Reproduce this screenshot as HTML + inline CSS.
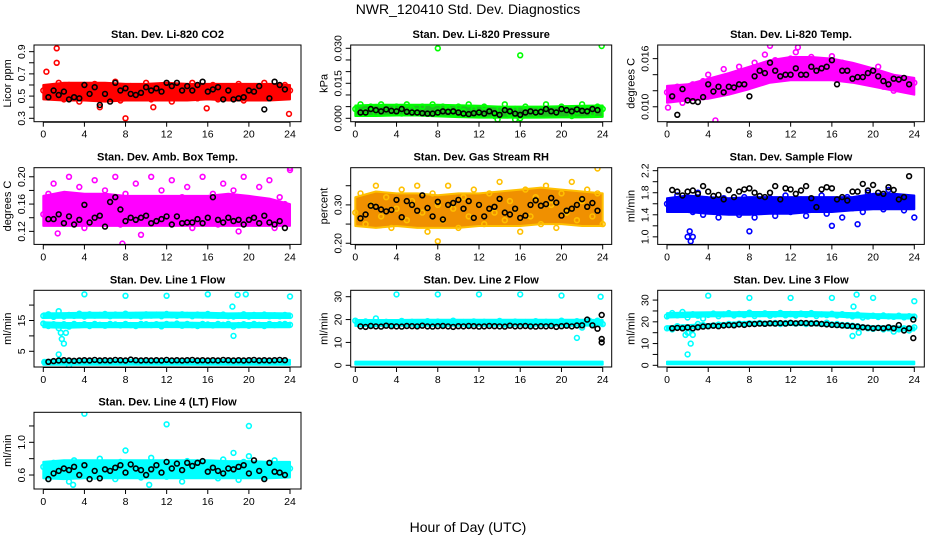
<!DOCTYPE html>
<html><head><meta charset="utf-8"><style>
html,body{margin:0;padding:0;background:#fff;width:936px;height:540px;overflow:hidden}
svg{display:block;font-family:"Liberation Sans",sans-serif}
</style></head><body>
<svg id="chart" width="936" height="540" viewBox="0 0 936 540">
<rect x="0" y="0" width="936" height="540" fill="#fff"/>
<text x="468" y="14" font-size="14" text-anchor="middle">NWR_120410  Std. Dev. Diagnostics</text>
<text x="468" y="532" font-size="14" text-anchor="middle">Hour of Day (UTC)</text>
</svg>
<script>
const hours=[0,0.5,1,1.5,2,2.5,3,3.5,4,4.5,5,5.5,6,6.5,7,7.5,8,8.5,9,9.5,10,10.5,11,11.5,12,12.5,13,13.5,14,14.5,15,15.5,16,16.5,17,17.5,18,18.5,19,19.5,20,20.5,21,21.5,22,22.5,23,23.5,24];
const bandHours=[0,2,4,6,8,10,12,14,16,18,20,22,24];
const blackHours=[0.5,1,1.5,2,2.5,3,3.5,4,4.5,5,5.5,6,6.5,7,7.5,8,8.5,9,9.5,10,10.5,11,11.5,12,12.5,13,13.5,14,14.5,15,15.5,16,16.5,17,17.5,18,18.5,19,19.5,20,20.5,21,21.5,22,22.5,23,23.5];
const xTicks=[0,4,8,12,16,20,24];

// CO2
const co2Lo=[0.47,0.46,0.46,0.45,0.46,0.46,0.46,0.46,0.47,0.46,0.46,0.46,0.47];
const co2Hi=[0.60,0.62,0.62,0.62,0.61,0.61,0.62,0.61,0.61,0.61,0.61,0.61,0.60];
const co2Pts=[0.55,0.58,0.50,0.62,0.47,0.60,0.53,0.45,0.58,0.52,0.61,0.48,0.56,0.50,0.63,0.46,0.55,0.59,0.49,0.53,0.62,0.47,0.57,0.51,0.60,0.45,0.54,0.58,0.50,0.62,0.48,0.56,0.52,0.60,0.47,0.55,0.58,0.50,0.61,0.46,0.54,0.59,0.51,0.62,0.48,0.57,0.53,0.60,0.55];
const co2Black=[0.49,0.55,0.51,0.54,0.47,0.49,0.48,0.60,0.52,0.58,0.42,0.52,0.45,0.62,0.55,0.57,0.52,0.51,0.53,0.58,0.55,0.57,0.54,0.62,0.59,0.62,0.55,0.59,0.55,0.60,0.63,0.54,0.56,0.58,0.47,0.55,0.47,0.48,0.49,0.55,0.54,0.59,0.38,0.48,0.63,0.60,0.56];
const co2OutX=[0.3,1.3,1.3,8,23.9,15.9,5.5,10.7];
const co2OutY=[0.72,0.93,0.80,0.30,0.34,0.39,0.40,0.40];
// Pressure
const presLo=[0.001,0.001,0.0012,0.0012,0.0008,0.0005,0.0003,0.0003,0.0002,0.0003,0.0004,0.0004,0.0006];
const presHi=[0.0055,0.0058,0.0058,0.0058,0.0058,0.0056,0.0054,0.0050,0.0050,0.0050,0.0052,0.0054,0.0055];
const presPts=[0.004,0.006,0.003,0.005,0.002,0.006,0.004,0.003,0.005,0.002,0.006,0.004,0.003,0.005,0.002,0.006,0.003,0.005,0.004,0.002,0.005,0.003,0.006,0.004,0.002,0.005,0.003,0.001,0.004,0.006,0.002,0.004,0.000,0.005,0.003,0.002,0.004,0.006,0.003,0.002,0.005,0.004,0.001,0.003,0.006,0.004,0.002,0.005,0.004];
const presBlack=[0.0025,0.0025,0.0040,0.0035,0.0030,0.0038,0.0032,0.0030,0.0040,0.0028,0.0025,0.0025,0.0022,0.0020,0.0020,0.0025,0.0030,0.0028,0.0030,0.0025,0.0020,0.0018,0.0022,0.0025,0.0020,0.0030,0.0022,0.0015,0.0035,0.0030,0.0020,0.0015,0.0025,0.0030,0.0025,0.0028,0.0040,0.0030,0.0025,0.0040,0.0035,0.0030,0.0038,0.0032,0.0030,0.0040,0.0035];
const presOutX=[8,16,23.9,13.8,15.5];
const presOutY=[0.030,0.027,0.031,-0.0005,-0.0005];
// Li-820 temp
const tempLo=[0.0105,0.0108,0.0110,0.0115,0.0122,0.0130,0.0133,0.0133,0.0133,0.0130,0.0125,0.0120,0.0115];
const tempHi=[0.0126,0.0128,0.0135,0.0142,0.0150,0.0158,0.0162,0.0162,0.0160,0.0155,0.0148,0.0140,0.0136];
const tempPts=[0.0118,0.0110,0.0125,0.0105,0.0120,0.0128,0.0112,0.0132,0.0140,0.0115,0.0135,0.0147,0.0125,0.0138,0.0150,0.0130,0.0145,0.0155,0.0138,0.0165,0.0148,0.0158,0.0140,0.0153,0.0160,0.0168,0.0145,0.0155,0.0162,0.0150,0.0158,0.0148,0.0163,0.0140,0.0155,0.0147,0.0150,0.0135,0.0145,0.0130,0.0142,0.0150,0.0125,0.0138,0.0120,0.0135,0.0128,0.0122,0.0130];
const tempBlack=[0.0113,0.0090,0.0122,0.0108,0.0107,0.0106,0.0112,0.0128,0.0119,0.0125,0.0118,0.0125,0.0124,0.0128,0.0128,0.0113,0.0138,0.0145,0.0142,0.0155,0.0145,0.0138,0.0140,0.0140,0.0148,0.0140,0.0140,0.0150,0.0145,0.0148,0.0150,0.0158,0.0128,0.0145,0.0145,0.0135,0.0137,0.0137,0.0142,0.0145,0.0138,0.0132,0.0128,0.0135,0.0134,0.0136,0.0128];
const tempOutX=[4.7,10.0,12.7,0.1];
const tempOutY=[0.0083,0.0176,0.0174,0.0099];
// Amb box temp
const ambLo=[0.128,0.128,0.128,0.128,0.128,0.128,0.128,0.128,0.128,0.128,0.128,0.128,0.128];
const ambHi=[0.172,0.178,0.175,0.175,0.172,0.172,0.172,0.172,0.172,0.175,0.172,0.168,0.160];
const ambPts=[0.145,0.175,0.190,0.135,0.160,0.200,0.150,0.185,0.125,0.170,0.195,0.140,0.180,0.155,0.200,0.130,0.175,0.160,0.190,0.115,0.165,0.200,0.140,0.180,0.150,0.195,0.135,0.170,0.185,0.125,0.160,0.200,0.145,0.175,0.130,0.190,0.155,0.180,0.120,0.200,0.165,0.140,0.185,0.150,0.195,0.125,0.170,0.160,0.210];
const ambBlack=[0.138,0.138,0.145,0.132,0.142,0.130,0.137,0.159,0.133,0.140,0.143,0.127,0.163,0.170,0.152,0.135,0.140,0.137,0.140,0.143,0.132,0.135,0.138,0.142,0.130,0.142,0.132,0.133,0.133,0.138,0.132,0.140,0.170,0.137,0.133,0.140,0.135,0.137,0.130,0.137,0.140,0.132,0.143,0.133,0.130,0.135,0.125];
const ambOutX=[7.7,1.4,24];
const ambOutY=[0.102,0.117,0.213];
// RH
const rhLo=[0.245,0.24,0.245,0.24,0.24,0.24,0.245,0.245,0.245,0.25,0.25,0.245,0.245];
const rhHi=[0.32,0.335,0.33,0.33,0.325,0.33,0.33,0.335,0.34,0.345,0.34,0.335,0.33];
const rhPts=[0.28,0.33,0.25,0.30,0.35,0.27,0.32,0.24,0.29,0.34,0.26,0.31,0.35,0.28,0.23,0.33,0.30,0.26,0.35,0.29,0.24,0.32,0.27,0.34,0.30,0.25,0.33,0.28,0.36,0.26,0.31,0.29,0.23,0.34,0.27,0.32,0.25,0.35,0.30,0.24,0.33,0.28,0.36,0.26,0.31,0.34,0.27,0.33,0.25];
const rhBlack=[0.265,0.275,0.298,0.295,0.288,0.283,0.287,0.313,0.268,0.310,0.300,0.285,0.325,0.292,0.270,0.308,0.262,0.300,0.305,0.313,0.290,0.310,0.266,0.300,0.270,0.290,0.295,0.316,0.280,0.275,0.290,0.266,0.272,0.300,0.312,0.298,0.302,0.318,0.306,0.272,0.285,0.290,0.300,0.315,0.295,0.305,0.285];
const rhOutX=[8,23.5];
const rhOutY=[0.205,0.395];
// Sample flow
const sfLo=[1.45,1.45,1.42,1.40,1.40,1.42,1.42,1.45,1.45,1.48,1.50,1.50,1.50];
const sfHi=[1.70,1.75,1.72,1.70,1.72,1.72,1.72,1.72,1.72,1.72,1.78,1.78,1.75];
const sfPts=[1.60,1.50,1.75,1.55,1.68,1.45,1.80,1.40,1.62,1.55,1.35,1.70,1.50,1.65,1.40,1.72,1.55,1.35,1.65,1.48,1.70,1.38,1.60,1.75,1.45,1.55,1.68,1.38,1.62,1.50,1.75,1.42,1.58,1.66,1.35,1.72,1.52,1.62,1.45,1.80,1.58,1.70,1.50,1.85,1.60,1.72,1.48,1.65,1.35];
const sfBlack=[1.85,1.82,1.75,1.82,1.84,1.78,1.92,1.82,1.74,1.76,1.68,1.85,1.72,1.82,1.86,1.88,1.80,1.74,1.72,1.80,1.92,1.68,1.88,1.86,1.78,1.84,1.92,1.70,1.54,1.86,1.90,1.88,1.68,1.72,1.66,1.82,1.82,1.96,1.84,1.94,1.80,1.78,1.90,1.85,1.68,1.72,2.10];
const sfOutX=[2,2.3,2.2,2.5,8,16,18.5];
const sfOutY=[1.0,0.92,1.1,1.0,1.1,1.2,1.23];
// Line 1
const l1LoA=[15.8,15.9,15.9,15.9,15.9,15.9,16.0,16.0,15.9,15.8,15.8,15.8,15.8];
const l1HiA=[17.3,17.4,17.5,17.5,17.5,17.6,17.6,17.5,17.5,17.3,17.4,17.4,17.3];
const l1LoB=[12.8,12.6,12.8,12.8,12.8,12.8,12.9,12.8,12.8,12.8,12.8,12.8,12.8];
const l1HiB=[14.4,14.2,14.2,14.2,14.2,14.2,14.3,14.3,14.2,14.1,14.2,14.2,14.2];
const l1LoC=[0.6,0.6,0.6,0.6,0.6,0.6,0.6,0.6,0.6,0.6,0.6,0.6,0.6];
const l1HiC=[2.2,2.2,2.2,2.2,2.2,2.2,2.2,2.2,2.2,2.2,2.2,2.2,2.2];
const l1PtsA=[16.5,17.0,16.2,18.0,16.3,16.8,16.5,17.2,16.3,17.0,16.6,16.8,17.1,16.4,16.9,16.7,17.2,16.5,16.8,16.3,17.0,16.6,16.9,16.4,17.1,16.7,16.5,17.0,16.8,16.4,16.9,16.6,17.1,16.7,16.5,16.9,16.4,16.3,16.6,17.0,16.3,16.8,16.5,16.9,16.4,16.7,16.4,16.8,16.5];
const l1PtsB=[14.0,13.2,13.8,12.5,13.8,13.0,13.9,13.5,13.8,13.2,13.9,13.6,13.3,13.9,13.7,13.4,13.9,13.5,13.2,13.9,13.8,13.5,13.8,13.1,13.9,13.6,14.0,13.3,13.9,13.5,13.2,13.9,13.7,13.4,13.9,13.6,13.9,13.0,13.5,13.8,13.3,13.9,13.6,13.2,13.9,13.5,13.8,13.9,13.6];
const l1Black=[1.6,1.8,2.0,2.1,2.0,1.9,2.0,2.1,2.0,2.2,2.0,2.1,2.0,2.2,2.1,2.0,2.3,2.1,2.0,2.1,2.0,2.1,2.0,2.2,2.0,2.1,2.0,2.1,2.2,2.0,2.1,2.0,2.1,2.0,2.2,2.1,2.0,2.1,2.0,2.1,2.2,2.0,2.1,2.0,2.1,2.2,2.1];
const l1OutX=[4,8,12,16,18.9,19.7,24,18.4,18.5,1.7,1.8,2.0,2.2,1.5,0.1,2.5];
const l1OutY=[23.5,23,23,23.5,23.3,23.5,22.8,19.5,10,11,9,7.5,11,4,1.5,0.3];
// Line 2
const l2LoA=[17.2,17.2,17.3,17.3,17.3,17.3,17.3,17.3,17.3,17.3,17.3,17.3,17.5];
const l2HiA=[19.8,19.8,19.8,19.9,19.9,19.9,19.9,19.9,19.9,19.9,19.9,19.9,19.8];
const l2LoB=[0.3,0.3,0.3,0.3,0.3,0.3,0.3,0.3,0.3,0.3,0.3,0.3,0.3];
const l2HiB=[1.6,1.6,1.6,1.6,1.6,1.6,1.6,1.6,1.6,1.6,1.6,1.6,1.6];
const l2Pts=[19.5,18.0,19.2,17.5,20.5,18.3,19.0,17.8,18.6,19.4,18.1,19.0,17.6,18.8,19.3,18.2,19.1,17.9,18.7,19.5,18.3,18.9,17.7,19.2,18.5,19.0,18.1,18.8,19.4,17.9,18.6,19.1,18.3,18.9,17.8,19.3,18.4,19.0,18.2,18.7,19.5,18.0,18.8,19.3,16.5,19.0,18.2,19.5,18.0];
const l2Black=[17,16.8,17.2,17.0,16.9,17.3,17.1,17.0,16.9,17.2,17.1,17.0,17.3,17.0,16.9,17.1,17.2,17.0,16.8,17.1,17.0,17.2,17.1,16.9,17.0,17.2,17.1,17.0,16.9,17.3,17.0,17.1,17.2,17.0,16.9,17.1,17.0,17.2,16.8,17.1,17.3,17.0,17.4,17.5,20.0,17.5,16.0];
const l2OutX=[4,8,12,16,20,23.8,21.5,22.7];
const l2OutY=[31,31,31,31,30.5,30,12,19.5];
const l2BlkOutX=[23.9,23.9,23.9];
const l2BlkOutY=[22,11.5,10];
// Line 3
const l3LoA=[22.0,22.2,22.5,22.6,22.6,22.6,22.6,22.6,22.5,22.0,21.8,21.6,21.5];
const l3HiA=[24.0,24.3,24.4,24.4,24.5,24.5,24.5,24.5,24.3,24.0,23.6,23.4,23.3];
const l3LoB=[16.5,17.0,17.5,18.0,18.5,18.5,18.5,18.5,18.0,17.0,16.5,16.0,16.0];
const l3HiB=[18.0,18.5,19.0,19.5,20.0,20.0,20.0,20.0,19.5,18.5,18.0,18.0,17.5];
const l3LoC=[0.5,0.5,0.5,0.5,0.5,0.5,0.5,0.5,0.5,0.5,0.5,0.5,0.5];
const l3HiC=[1.7,1.7,1.7,1.7,1.7,1.7,1.7,1.7,1.7,1.7,1.7,1.7,1.7];
const l3PtsA=[22.5,24.0,23.0,24.5,22.0,23.5,22.8,21.5,23.2,23.8,22.6,23.4,24.0,22.9,23.6,23.1,24.2,22.7,23.5,23.9,22.8,23.3,24.1,23.0,23.6,22.9,23.8,23.2,24.0,22.7,23.4,23.1,23.7,22.9,23.5,23.0,22.5,23.3,22.0,22.4,22.8,22.2,22.9,22.5,22.3,22.8,22.1,22.6,22.4];
const l3PtsB=[17,16.5,18,17.5,15,16.8,19.0,18.5,18.0,18.3,18.7,18.5,19.0,18.8,19.2,19.0,19.3,19.1,19.5,19.2,19.3,19.5,19.0,19.4,19.6,19.2,19.5,19.0,19.4,19.3,19.1,19.6,18.8,19.0,18.6,18.5,18.2,18.0,17.5,17.0,16.8,17.2,16.5,17.0,15.5,16.5,17.0,16.0,17.5];
const l3Black=[17.0,17.2,17.0,17.4,17.0,17.5,17.8,18.0,18.2,18.0,18.3,18.5,18.4,18.8,18.6,19.0,19.0,19.2,19.1,19.3,19.2,19.4,19.2,19.5,19.3,19.5,19.4,19.2,19.3,19.0,18.8,18.6,18.5,18.3,18.2,18.0,17.8,17.5,17.3,17.0,17.2,17.0,17.5,17.0,18.5,16.0,17.0];
const l3OutX=[4,8,12,16,18.4,18.1,20,24,2.0,2.3,2.5,1.8,2.1,18.0,18.6];
const l3OutY=[32,31,31,31,32.5,27,31,29.5,5,10,14,14,15,13.5,15];
const l3BlkOutX=[23.9,23.9];
const l3BlkOutY=[21,12.5];
// Line 4
const l4Lo=[0.56,0.55,0.56,0.56,0.56,0.56,0.56,0.56,0.56,0.56,0.56,0.56,0.57];
const l4Hi=[0.76,0.78,0.78,0.78,0.78,0.78,0.78,0.78,0.78,0.77,0.77,0.76,0.76];
const l4Pts=[0.70,0.55,0.75,0.62,0.68,0.52,0.78,0.60,0.72,0.65,0.58,0.80,0.63,0.70,0.55,0.76,0.67,0.60,0.73,0.57,0.69,0.81,0.62,0.75,0.58,0.70,0.66,0.52,0.77,0.63,0.71,0.59,0.74,0.65,0.56,0.79,0.61,0.70,0.54,0.76,0.83,0.60,0.72,0.57,0.68,0.78,0.62,0.73,0.68];
const l4Black=[0.55,0.62,0.65,0.68,0.66,0.70,0.60,0.72,0.55,0.65,0.56,0.67,0.65,0.69,0.72,0.63,0.73,0.68,0.66,0.60,0.67,0.72,0.63,0.76,0.68,0.74,0.66,0.75,0.71,0.75,0.77,0.64,0.69,0.65,0.62,0.68,0.67,0.70,0.72,0.62,0.78,0.65,0.55,0.75,0.64,0.63,0.60];
const l4OutX=[4,12,20,8,18.5,2.9,10.3];
const l4OutY=[1.35,1.22,1.20,0.90,0.87,0.48,0.48];

const colBox=[[34,301],[350.7,611.7],[657.7,924.3]];
const colT0=[43.3,355.3,667];
const colT24=[290,602.7,914.3];
const rowTop=[45,167.7,290.3,412.3];
const boxH=76.7;

const panels=[
 {id:'co2',title:'Stan. Dev. Li-820 CO2',ylab:'Licor ppm',c:0,r:0,lo:0.2694,hi:0.960,ticks:[0.3,0.4,0.5,0.6,0.7,0.8,0.9],labs:['0.3','0.5','0.7','0.9'],col:'#ff0000',fill:'#ff0000',bands:[[co2Lo,co2Hi]],pts:[co2Pts],black:co2Black,ox:co2OutX,oy:co2OutY},
 {id:'pressure',title:'Stan. Dev. Li-820 Pressure',ylab:'kPa',c:1,r:0,lo:-0.00146,hi:0.03141,ticks:[0,0.005,0.01,0.015,0.02,0.025,0.03],labs:['0.000','0.015','0.030'],col:'#00ff00',fill:'#20c020',bands:[[presLo,presHi]],pts:[presPts],black:presBlack,ox:presOutX,oy:presOutY},
 {id:'li820-temp',title:'Stan. Dev. Li-820 Temp.',ylab:'degrees C',c:2,r:0,lo:0.00814,hi:0.0177,ticks:[0.010,0.012,0.014,0.016],labs:['0.010','0.016'],col:'#ff00ff',fill:'#ff00ff',bands:[[tempLo,tempHi]],pts:[tempPts],black:tempBlack,ox:tempOutX,oy:tempOutY},
 {id:'amb-temp',title:'Stan. Dev. Amb. Box Temp.',ylab:'degrees C',c:0,r:1,lo:0.1009,hi:0.2133,ticks:[0.12,0.14,0.16,0.18,0.20],labs:['0.12','0.16','0.20'],col:'#ff00ff',fill:'#ff00ff',bands:[[ambLo,ambHi]],pts:[ambPts],black:ambBlack,ox:ambOutX,oy:ambOutY},
 {id:'rh',title:'Stan. Dev. Gas Stream RH',ylab:'percent',c:1,r:1,lo:0.197,hi:0.397,ticks:[0.20,0.25,0.30,0.35],labs:['0.20','0.30'],col:'#ffc000',fill:'#f09000',bands:[[rhLo,rhHi]],pts:[rhPts],black:rhBlack,ox:rhOutX,oy:rhOutY},
 {id:'sample-flow',title:'Stan. Dev. Sample Flow',ylab:'ml/min',c:2,r:1,lo:0.863,hi:2.254,ticks:[1.0,1.2,1.4,1.6,1.8,2.0,2.2],labs:['1.0','1.4','1.8','2.2'],col:'#0000ff',fill:'#0000ff',bands:[[sfLo,sfHi]],pts:[sfPts],black:sfBlack,ox:sfOutX,oy:sfOutY},
 {id:'line1',title:'Stan. Dev. Line 1 Flow',ylab:'ml/min',c:0,r:2,lo:-0.1,hi:24.8,ticks:[5,10,15,20],labs:['5','','15',''],col:'#00ffff',fill:'#00ffff',bands:[[l1LoA,l1HiA],[l1LoB,l1HiB],[l1LoC,l1HiC]],pts:[l1PtsA,l1PtsB],black:l1Black,ox:l1OutX,oy:l1OutY},
 {id:'line2',title:'Stan. Dev. Line 2 Flow',ylab:'ml/min',c:1,r:2,lo:-0.75,hi:32.8,ticks:[0,10,20,30],labs:['0','10','20','30'],col:'#00ffff',fill:'#00ffff',bands:[[l2LoA,l2HiA],[l2LoB,l2HiB]],pts:[l2Pts],black:l2Black,ox:l2OutX,oy:l2OutY,bx:l2BlkOutX,by:l2BlkOutY},
 {id:'line3',title:'Stan. Dev. Line 3 Flow',ylab:'ml/min',c:2,r:2,lo:-0.78,hi:34.5,ticks:[0,5,10,15,20,25,30],labs:['0','','10','','20','','30'],col:'#00ffff',fill:'#00ffff',bands:[[l3LoA,l3HiA],[l3LoB,l3HiB],[l3LoC,l3HiC]],pts:[l3PtsA,l3PtsB],black:l3Black,ox:l3OutX,oy:l3OutY,bx:l3BlkOutX,by:l3BlkOutY},
 {id:'line4',title:'Stan. Dev. Line 4 (LT) Flow',ylab:'ml/min',c:0,r:3,lo:0.429,hi:1.367,ticks:[0.6,0.8,1.0,1.2],labs:['0.6','','1.0',''],col:'#00ffff',fill:'#00ffff',bands:[[l4Lo,l4Hi]],pts:[l4Pts],black:l4Black,ox:l4OutX,oy:l4OutY}
];

const NS='http://www.w3.org/2000/svg';
const svg=document.getElementById('chart');
function mk(parent,tag,attrs,txt){
  const e=document.createElementNS(NS,tag);
  for(const k in attrs)e.setAttribute(k,attrs[k]);
  if(txt!==undefined)e.textContent=txt;
  parent.appendChild(e);return e;
}
function circ(g,x,y,color,name){
  const c=mk(g,'circle',{cx:x.toFixed(1),cy:y.toFixed(1),r:2.4,fill:'none',stroke:color,'stroke-width':1.6});
  
  
}
panels.forEach(p=>{
  const L=colBox[p.c][0],R=colBox[p.c][1],T=rowTop[p.r],B=T+boxH;
  const xs=h=>colT0[p.c]+h*(colT24[p.c]-colT0[p.c])/24;
  const ys=v=>B-(v-p.lo)/(p.hi-p.lo)*boxH;
  const g=mk(svg,'g',{});
  
  
  const clipId='clip-'+p.id;
  const cp=mk(g,'clipPath',{id:clipId});
  mk(cp,'rect',{x:L,y:T,width:R-L,height:boxH});
  const marks=mk(g,'g',{'clip-path':'url(#'+clipId+')'});
  
  
  p.bands.forEach((b,bi)=>{
    let d='';
    bandHours.forEach((h,i)=>{d+=(i?'L':'M')+xs(h).toFixed(1)+','+ys(b[1][i]).toFixed(1);});
    for(let i=bandHours.length-1;i>=0;i--)d+='L'+xs(bandHours[i]).toFixed(1)+','+ys(b[0][i]).toFixed(1);
    const pa=mk(marks,'path',{d:d+'Z',fill:p.fill,stroke:p.col,'stroke-width':2,'stroke-linejoin':'round'});
    
    
  });
  p.pts.forEach(arr=>arr.forEach((v,i)=>circ(marks,xs(hours[i]),ys(v),p.col,'point-'+p.id)));
  p.ox.forEach((x,i)=>circ(marks,xs(x),ys(p.oy[i]),p.col,'outlier-'+p.id));
  p.black.forEach((v,i)=>circ(marks,xs(blackHours[i]),ys(v),'#000','hourly-point-'+p.id));
  if(p.bx)p.bx.forEach((x,i)=>circ(marks,xs(x),ys(p.by[i]),'#000','hourly-point-'+p.id));
  const box=mk(g,'rect',{x:L,y:T,width:R-L,height:boxH,fill:'none',stroke:'#000','stroke-width':1});
  
  
  const t=mk(g,'text',{x:(L+R)/2,y:T-7,'font-size':11,'font-weight':'bold','text-anchor':'middle'},p.title);
  
  
  const yl=mk(g,'text',{x:L-23,y:T+boxH/2,'font-size':11,'text-anchor':'middle',transform:'rotate(-90 '+(L-23)+' '+(T+boxH/2)+')'},p.ylab);
  
  
  const xa=mk(g,'path',{d:'M'+xs(0)+','+(B+0.5)+'H'+xs(24),stroke:'#000',fill:'none'});
  
  
  xTicks.forEach(h=>{
    const x=xs(h);
    const tk=mk(g,'line',{x1:x,x2:x,y1:B,y2:B+5,stroke:'#000'});
    
    
    const tl=mk(g,'text',{x:x,y:B+16,'font-size':10.5,'text-anchor':'middle'},String(h));
    
    
  });
  p.ticks.forEach((v,i)=>{
    const y=ys(v);
    const tk=mk(g,'line',{x1:L-5,x2:L,y1:y,y2:y,stroke:'#000'});
    
    
  });
  p.labs.forEach(s=>{
    if(!s)return;
    const y=ys(parseFloat(s));
    const tl=mk(g,'text',{x:L-9,y:y,'font-size':10.5,'text-anchor':'middle',transform:'rotate(-90 '+(L-9)+' '+y+')'},s);
    
    
  });
});
</script>
</body></html>
